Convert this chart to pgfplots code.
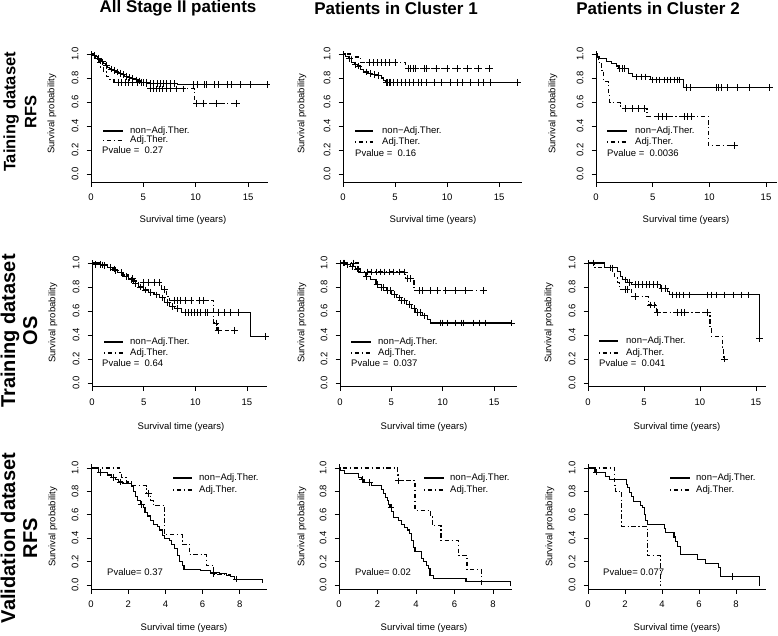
\documentclass[border=0pt]{standalone}
\usepackage{fontspec}
\setmainfont{Liberation Sans}
\usepackage{pgfplots}
\pgfplotsset{compat=1.18}

\newcommand{\ts}{\fontsize{9.5}{11}\selectfont}
\pgfplotsset{
  km/.style={
    scale only axis, anchor=south west, clip=false,
    axis x line=bottom, axis y line=left,
    axis line style={-, line width=0.8pt},
    tick align=outside, major tick length=4.5pt,
    tick style={black, line width=0.8pt},
    ytick={0,0.2,0.4,0.6,0.8,1}, yticklabels={0.0,0.2,0.4,0.6,0.8,1.0},
    yticklabel style={rotate=90, anchor=south, font=\ts},
    xticklabel style={font=\ts},
    xticklabel shift=4pt, yticklabel shift=4.5pt,
    /pgf/number format/assume math mode=true,
  },
  row1/.style={height=130.5pt, ymin=-0.0667, ymax=1.021, xtick={0,5,10,15}},
  row2/.style={height=126.5pt, ymin=-0.029, ymax=1.025, xtick={0,5,10,15}},
  row3/.style={height=125pt, ymin=-0.034, ymax=1.034, xtick={0,2,4,6,8}},
  nonadj/.style={const plot, black, line width=1.1pt, mark=none},
  adj/.style={const plot, black, line width=1.1pt, mark=none, dash pattern=on 1.2pt off 2.6pt on 4.5pt off 2.6pt},
  cens/.style={only marks, mark=+, mark size=3.3pt, black, mark options={solid, line width=0.8pt}},
}
\tikzset{
  leg/.style={anchor=west, inner sep=0pt, font=\ts},
  solidleg/.style={line width=1.1pt},
  dashleg/.style={line width=1.1pt, dash pattern=on 1.2pt off 2.6pt on 4.5pt off 2.6pt},
}

\begin{document}
\begin{tikzpicture}
\useasboundingbox (0,0) rectangle (778pt,-636pt);

% column and row headings
\node[font=\bfseries\fontsize{17}{20}\selectfont] at (178pt,-8pt) {All Stage II patients};
\node[font=\bfseries\fontsize{17}{20}\selectfont] at (396pt,-8pt) {Patients in Cluster 1};
\node[font=\bfseries\fontsize{17}{20}\selectfont] at (658pt,-8pt) {Patients in Cluster 2};
\node[rotate=90, align=center, font=\bfseries\fontsize{16.5}{21}\selectfont] at (20pt,-112pt) {Taining dataset\\RFS};
\node[rotate=90, align=center, font=\bfseries\fontsize{20}{22}\selectfont] at (19pt,-331pt) {Training dataset\\OS};
\node[rotate=90, align=center, font=\bfseries\fontsize{20}{22}\selectfont] at (19pt,-538pt) {Validation dataset\\RFS};

%% ---------- row 1: training RFS ----------
\begin{axis}[km, row1, at={(91pt,-182pt)}, width=177pt, xmin=0, xmax=16.9]
\addplot[nonadj] coordinates {(0,1) (0.2,0.99) (0.4,0.98) (0.6,0.965) (0.8,0.95) (1.0,0.935) (1.2,0.92) (1.4,0.905) (1.6,0.89) (1.8,0.875) (2.0,0.865) (2.3,0.85) (2.6,0.84) (2.9,0.83) (3.2,0.815) (3.5,0.805) (3.8,0.795) (4.1,0.785) (4.4,0.775) (4.8,0.765) (5.5,0.755) (8.3,0.745) (16.8,0.745)};
\addplot[cens] coordinates {(0.3,0.99) (0.7,0.965) (1.1,0.935) (1.5,0.905) (1.9,0.875) (2.2,0.865) (2.5,0.85) (2.8,0.84) (3.1,0.83) (3.4,0.815) (3.7,0.805) (4.0,0.795) (4.3,0.785) (4.6,0.775) (5.0,0.765) (5.3,0.765) (5.7,0.755) (6.0,0.755) (6.3,0.755) (6.6,0.755) (6.9,0.755) (7.2,0.755) (7.6,0.755) (8.0,0.755) (9.8,0.745) (10.2,0.745) (10.8,0.745) (11.0,0.745) (11.8,0.745) (12.2,0.745) (13.0,0.745) (13.4,0.745) (14.3,0.745) (15.2,0.745) (16.8,0.745)};
\addplot[adj] coordinates {(0,1) (0.3,0.97) (0.6,0.93) (0.9,0.89) (1.2,0.85) (1.5,0.81) (1.8,0.785) (2.2,0.765) (5.3,0.71) (9.9,0.59) (14,0.59)};
\addplot[cens] coordinates {(2.6,0.765) (2.9,0.765) (3.3,0.765) (3.6,0.765) (4.0,0.765) (4.4,0.765) (4.8,0.765) (5.7,0.71) (6.0,0.71) (6.2,0.71) (6.5,0.71) (6.8,0.71) (7.2,0.71) (7.6,0.71) (8.2,0.71) (8.8,0.71) (10.1,0.59) (10.7,0.59) (12.0,0.59) (13.9,0.59)};
\end{axis}

\begin{axis}[km, row1, at={(343pt,-182pt)}, width=179pt, xmin=0, xmax=17.2]
\addplot[nonadj] coordinates {(0,1) (0.2,0.98) (0.5,0.96) (0.8,0.93) (1.1,0.91) (1.4,0.9) (1.7,0.87) (2.0,0.85) (2.4,0.84) (2.8,0.83) (3.3,0.82) (3.7,0.8) (3.9,0.78) (4.1,0.765) (16.9,0.765)};
\addplot[cens] coordinates {(0.6,0.96) (1.2,0.91) (1.5,0.9) (2.2,0.85) (2.6,0.84) (3.0,0.83) (3.4,0.82) (4.2,0.765) (4.3,0.765) (4.5,0.765) (4.6,0.765) (4.8,0.765) (5.2,0.765) (5.6,0.765) (6.0,0.765) (6.4,0.765) (6.8,0.765) (7.2,0.765) (7.5,0.765) (8.0,0.765) (8.8,0.765) (9.5,0.765) (10.3,0.765) (11.0,0.765) (11.5,0.765) (12.2,0.765) (13.0,0.765) (13.5,0.765) (14.2,0.765) (16.8,0.765)};
\addplot[adj] coordinates {(0,1) (0.8,0.975) (1.7,0.93) (6.0,0.88) (14.1,0.88)};
\addplot[cens] coordinates {(2.5,0.93) (2.9,0.93) (3.3,0.93) (3.7,0.93) (4.1,0.93) (4.5,0.93) (5.0,0.93) (6.3,0.88) (6.5,0.88) (6.8,0.88) (7.0,0.88) (7.8,0.88) (8.0,0.88) (9.0,0.88) (10.0,0.88) (11.0,0.88) (12.0,0.88) (13.0,0.88) (14.1,0.88)};
\end{axis}

\begin{axis}[km, row1, at={(596pt,-182pt)}, width=181pt, xmin=0, xmax=15.97]
\addplot[nonadj] coordinates {(0,1) (0.1,0.975) (0.3,0.96) (0.9,0.94) (1.4,0.92) (1.8,0.9) (2.0,0.88) (2.9,0.84) (3.2,0.81) (4.8,0.785) (7.7,0.72) (15.3,0.72)};
\addplot[cens] coordinates {(2.1,0.88) (2.3,0.88) (2.5,0.88) (3.6,0.81) (4.0,0.81) (4.4,0.81) (5.0,0.785) (5.3,0.785) (5.6,0.785) (6.0,0.785) (6.3,0.785) (6.6,0.785) (6.9,0.785) (7.2,0.785) (7.4,0.785) (8.0,0.72) (8.3,0.72) (10.6,0.72) (10.8,0.72) (11.1,0.72) (11.6,0.72) (12.5,0.72) (13.5,0.72) (15.3,0.72)};
\addplot[adj] coordinates {(0,1) (0.2,0.93) (0.5,0.86) (0.7,0.77) (1.1,0.66) (1.2,0.595) (2.2,0.545) (4.5,0.48) (9.9,0.24) (12.2,0.24)};
\addplot[cens] coordinates {(2.6,0.545) (3.2,0.545) (3.7,0.545) (4.3,0.545) (5.5,0.48) (5.9,0.48) (6.2,0.48) (7.8,0.48) (8.1,0.48) (8.4,0.48) (12.2,0.24)};
\end{axis}

%% ---------- row 2: training OS ----------
\begin{axis}[km, row2, at={(92pt,-386.5pt)}, width=175pt, xmin=0, xmax=16.94]
\addplot[nonadj] coordinates {(0,1) (0.5,0.99) (1,0.98) (1.5,0.965) (2,0.94) (2.5,0.92) (3,0.89) (3.5,0.86) (4,0.83) (4.5,0.8) (5,0.775) (5.5,0.755) (6,0.735) (6.5,0.71) (7,0.67) (7.5,0.64) (8,0.62) (8.7,0.59) (15.3,0.39) (16.8,0.39)};
\addplot[cens] coordinates {(0.3,0.99) (0.8,0.99) (1.2,0.98) (1.8,0.965) (2.3,0.94) (2.8,0.92) (3.3,0.89) (3.8,0.86) (4.2,0.83) (4.7,0.8) (5.2,0.775) (5.7,0.755) (6.2,0.735) (6.8,0.71) (7.3,0.67) (7.8,0.64) (8.3,0.62) (9.0,0.59) (9.3,0.59) (9.6,0.59) (9.9,0.59) (10.2,0.59) (10.5,0.59) (11.0,0.59) (11.2,0.59) (12.2,0.59) (12.8,0.59) (13.4,0.59) (14.2,0.59) (16.8,0.39)};
\addplot[adj] coordinates {(0,1) (0.8,0.985) (1.5,0.97) (2,0.95) (2.5,0.92) (3,0.9) (3.5,0.87) (4,0.85) (4.5,0.84) (6.7,0.78) (7.2,0.72) (7.5,0.69) (11.8,0.50) (12.1,0.44) (13.8,0.44)};
\addplot[cens] coordinates {(1.0,0.985) (2.2,0.95) (3.9,0.87) (5.0,0.84) (5.5,0.84) (6.0,0.84) (6.5,0.84) (7.0,0.78) (8.0,0.69) (8.3,0.69) (8.6,0.69) (9.0,0.69) (9.6,0.69) (10.4,0.69) (10.8,0.69) (12.0,0.50) (12.2,0.44) (13.8,0.44)};
\end{axis}

\begin{axis}[km, row2, at={(340pt,-386.5pt)}, width=177pt, xmin=0, xmax=17.23]
\addplot[nonadj] coordinates {(0,1) (0.5,0.985) (1,0.97) (1.5,0.95) (2,0.92) (2.5,0.89) (3,0.86) (3.5,0.82) (4,0.795) (4.5,0.77) (5,0.74) (5.5,0.71) (6,0.685) (6.5,0.655) (7,0.62) (7.3,0.59) (8,0.56) (8.5,0.53) (8.8,0.50) (16.7,0.50)};
\addplot[cens] coordinates {(0.3,1) (0.7,0.985) (1.2,0.97) (1.7,0.95) (2.6,0.89) (3.6,0.82) (4.0,0.795) (4.2,0.795) (4.6,0.77) (4.9,0.77) (5.3,0.74) (5.8,0.71) (6.0,0.685) (6.3,0.685) (6.8,0.655) (7.2,0.62) (7.5,0.59) (7.8,0.59) (8.2,0.56) (9.8,0.50) (10.0,0.50) (10.5,0.50) (11.2,0.50) (11.8,0.50) (12.0,0.50) (13.0,0.50) (13.6,0.50) (14.2,0.50) (16.7,0.50)};
\addplot[adj] coordinates {(0,1) (1.8,0.925) (6.4,0.87) (7.2,0.77) (14.0,0.77)};
\addplot[cens] coordinates {(0.4,1) (1.3,1) (2.7,0.925) (3.1,0.925) (3.5,0.925) (3.9,0.925) (4.3,0.925) (4.8,0.925) (5.2,0.925) (5.8,0.925) (6.3,0.925) (6.6,0.87) (6.9,0.87) (7.7,0.77) (8.0,0.77) (8.8,0.77) (9.5,0.77) (10.3,0.77) (11.2,0.77) (12.2,0.77) (14.0,0.77)};
\end{axis}

\begin{axis}[km, row2, at={(588pt,-386.5pt)}, width=178pt, xmin=0, xmax=15.9]
\addplot[nonadj] coordinates {(0,1) (1.5,0.96) (2.6,0.93) (2.9,0.89) (3.1,0.86) (3.5,0.84) (3.9,0.82) (6.5,0.79) (7.1,0.765) (7.3,0.735) (15.3,0.37) (15.35,0.37)};
\addplot[cens] coordinates {(0.5,1) (2.0,0.96) (2.2,0.96) (3.3,0.86) (3.7,0.84) (4.2,0.82) (4.5,0.82) (4.9,0.82) (5.2,0.82) (5.5,0.82) (5.8,0.82) (6.2,0.82) (6.6,0.79) (6.9,0.79) (7.5,0.735) (7.9,0.735) (8.2,0.735) (8.5,0.735) (9.1,0.735) (10.7,0.735) (11.0,0.735) (11.5,0.735) (12.2,0.735) (13.0,0.735) (13.7,0.735) (14.3,0.735) (15.3,0.37)};
\addplot[adj] coordinates {(0,1) (0.6,0.96) (2.2,0.92) (2.4,0.88) (2.6,0.84) (2.8,0.78) (3.9,0.72) (5.4,0.65) (6.1,0.59) (10.9,0.45) (11.0,0.39) (12.0,0.30) (12.1,0.2) (12.2,0.2)};
\addplot[cens] coordinates {(3.3,0.78) (3.5,0.78) (4.2,0.72) (5.6,0.65) (5.9,0.65) (6.2,0.59) (8.0,0.59) (8.3,0.59) (8.6,0.59) (10.7,0.59) (12.2,0.2)};
\end{axis}

%% ---------- row 3: validation RFS ----------
\begin{axis}[km, row3, at={(91pt,-589pt)}, width=176pt, xmin=0, xmax=9.46]
\addplot[nonadj] coordinates {(0,1) (0.4,0.96) (0.9,0.94) (1.1,0.92) (1.3,0.9) (1.5,0.88) (1.7,0.87) (2.2,0.84) (2.3,0.80) (2.4,0.76) (2.5,0.72) (2.65,0.69) (2.8,0.66) (2.9,0.62) (3.05,0.59) (3.2,0.55) (3.35,0.52) (3.55,0.50) (3.7,0.47) (3.85,0.42) (3.95,0.40) (4.2,0.38) (4.35,0.35) (4.5,0.31) (4.65,0.25) (4.75,0.2) (4.9,0.17) (5.0,0.136) (5.9,0.125) (6.4,0.11) (6.9,0.1) (7.3,0.085) (7.5,0.07) (7.7,0.05) (9.0,0.05) (9.2,0.02) (9.25,0.02)};
\addplot[cens] coordinates {(0.5,0.96) (1.2,0.92) (1.6,0.88) (2.7,0.69) (7.8,0.05)};
\addplot[adj] coordinates {(0,1) (1.55,0.96) (1.65,0.92) (1.9,0.88) (2.2,0.85) (3.0,0.78) (3.2,0.72) (3.35,0.68) (3.95,0.43) (4.9,0.35) (5.3,0.26) (6.2,0.17) (6.6,0.09) (7.5,0.09)};
\addplot[cens] coordinates {(3.1,0.78) (6.6,0.1)};
\end{axis}

\begin{axis}[km, row3, at={(339pt,-589pt)}, width=173pt, xmin=0, xmax=8.99]
\addplot[nonadj] coordinates {(0,1) (0.1,0.975) (0.3,0.95) (1.0,0.92) (1.15,0.9) (1.3,0.875) (1.7,0.85) (2.2,0.82) (2.3,0.78) (2.4,0.75) (2.5,0.72) (2.56,0.69) (2.65,0.66) (2.74,0.63) (2.82,0.58) (3.1,0.55) (3.25,0.52) (3.4,0.49) (3.55,0.47) (3.65,0.44) (3.77,0.38) (3.86,0.32) (3.95,0.29) (4.3,0.23) (4.4,0.2) (4.55,0.17) (4.64,0.14) (4.73,0.08) (4.9,0.057) (6.6,0.028) (8.9,0.0) (8.92,0)};
\addplot[cens] coordinates {(1.2,0.9) (1.6,0.875) (2.7,0.66)};
\addplot[adj] coordinates {(0,1) (3.05,0.94) (3.1,0.89) (3.95,0.64) (4.75,0.59) (4.85,0.51) (5.3,0.38) (6.2,0.25) (6.65,0.13) (7.4,0.0) (7.42,0)};
\addplot[cens] coordinates {(3.1,0.89)};
\end{axis}

\begin{axis}[km, row3, at={(588pt,-589pt)}, width=178pt, xmin=0, xmax=9.62]
\addplot[nonadj] coordinates {(0,1) (0.38,0.965) (0.95,0.93) (1.17,0.9) (2.09,0.86) (2.15,0.83) (2.25,0.79) (2.35,0.76) (2.45,0.71) (2.85,0.68) (2.95,0.66) (3.05,0.6) (3.12,0.55) (3.2,0.52) (4.13,0.48) (4.2,0.45) (4.65,0.41) (4.75,0.37) (4.85,0.33) (4.98,0.26) (5.9,0.22) (6.35,0.185) (7.05,0.15) (7.15,0.075) (9.26,0.0) (9.27,0)};
\addplot[cens] coordinates {(0.45,0.965) (7.8,0.075)};
\addplot[adj] coordinates {(0,1) (1.45,0.85) (1.5,0.8) (1.83,0.5) (3.2,0.25) (3.9,0.0) (3.92,0)};
\end{axis}

% axis titles
\foreach \x/\y in {183/220, 433/220, 686/220, 181/427, 424/427, 677/427, 184/628, 424/628, 677/628}
  \node[font=\ts] at (\x pt,-\y pt) {Survival time (years)};
\foreach \x/\y in {52/114, 302/114, 553/114, 53/323, 302/323, 549/323, 53/527, 302/527, 550/527}
  \node[font=\ts, rotate=90] at (\x pt,-\y pt) {Survival probability};

% legends
\foreach \a/\b/\t/\p/\ys/\yd/\yp/\pv in {
  103/123/130/102/131/140.5/150/0.27, 355/373/382/355/131/142/153/0.16, 607/627/635/607/131/142/153/0.0036,
  104/123/130/102/342/353/363/0.64, 351/371/378/351/342/353/363/0.037, 599/618/626/599/341/353/363/0.041} {
  \draw[solidleg] (\a pt,-\ys pt) -- (\b pt,-\ys pt);
  \node[leg] at (\t pt,-\ys pt) {non−Adj.Ther.};
  \draw[dashleg] (\a pt,-\yd pt) -- (\b pt,-\yd pt);
  \node[leg] at (\t pt,-\yd pt) {Adj.Ther.};
  \node[leg] at (\p pt,-\yp pt) {Pvalue =\ \ \pv};
}
\foreach \a/\b/\t/\p/\pv in {173/192/199/107/0.37, 424/444/450/355/0.02, 670/690/696/603/0.077} {
  \draw[solidleg] (\a pt,-478pt) -- (\b pt,-478pt);
  \node[leg] at (\t pt,-478pt) {non−Adj.Ther.};
  \draw[dashleg] (\a pt,-490pt) -- (\b pt,-490pt);
  \node[leg] at (\t pt,-490pt) {Adj.Ther.};
  \node[leg] at (\p pt,-572pt) {Pvalue= \pv};
}
\end{tikzpicture}
\end{document}
